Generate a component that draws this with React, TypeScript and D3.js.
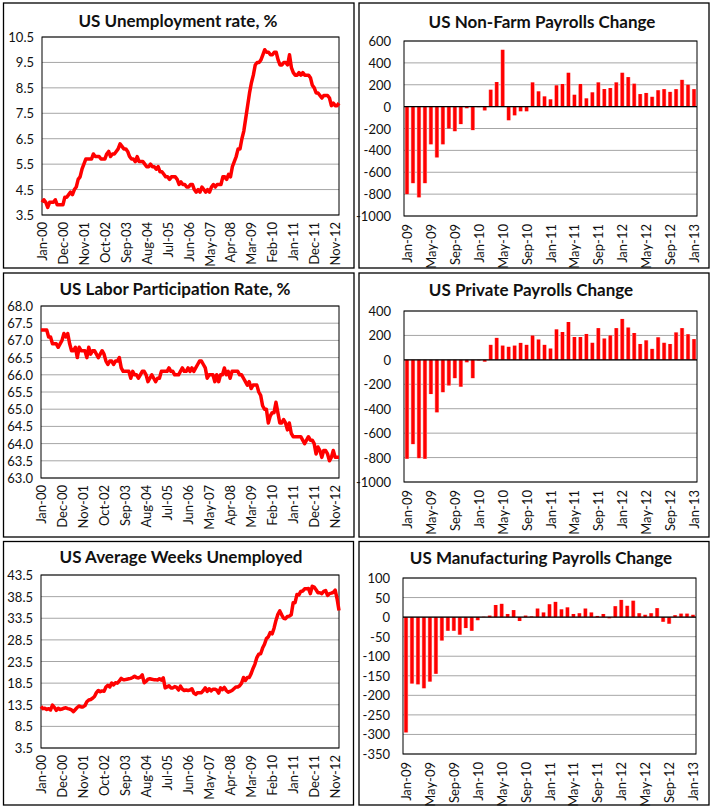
import * as d3 from "d3";

// months on the category axes
const monthFmt = d3.timeFormat("%b-%y");
const lineMonths = d3.timeMonth.range(new Date(2000, 0, 1), new Date(2013, 1, 1)).map(monthFmt);
const barMonths = d3.timeMonth.range(new Date(2009, 0, 1), new Date(2013, 1, 1)).map(monthFmt);

const lineTickLabels = [
  "Jan-00", "Dec-00", "Nov-01", "Oct-02", "Sep-03", "Aug-04", "Jul-05", "Jun-06",
  "May-07", "Apr-08", "Mar-09", "Feb-10", "Jan-11", "Dec-11", "Nov-12",
];
const barTickLabels = [
  "Jan-09", "May-09", "Sep-09", "Jan-10", "May-10", "Sep-10", "Jan-11",
  "May-11", "Sep-11", "Jan-12", "May-12", "Sep-12", "Jan-13",
];

// y tick labels
const unemploymentTicks = [3.5, 4.5, 5.5, 6.5, 7.5, 8.5, 9.5, 10.5];
const participationTicks = [63, 63.5, 64, 64.5, 65, 65.5, 66, 66.5, 67, 67.5, 68];
const weeksTicks = [3.5, 8.5, 13.5, 18.5, 23.5, 28.5, 33.5, 38.5, 43.5];
const nfpTicks = [-1000, -800, -600, -400, -200, 0, 200, 400, 600];
const privateTicks = [-1000, -800, -600, -400, -200, 0, 200, 400];
const manufTicks = [-350, -300, -250, -200, -150, -100, -50, 0, 50, 100];

// monthly series, Jan-00 .. Jan-13
const unemploymentRate = [
  4.0, 4.1, 4.0, 3.8, 4.0, 4.0, 4.0, 4.1, 3.9, 3.9, 3.9, 3.9,
  4.2, 4.2, 4.3, 4.4, 4.3, 4.5, 4.6, 4.9, 5.0, 5.3, 5.5, 5.7,
  5.7, 5.7, 5.7, 5.9, 5.8, 5.8, 5.8, 5.7, 5.7, 5.7, 5.9, 6.0,
  5.8, 5.9, 5.9, 6.0, 6.1, 6.3, 6.2, 6.1, 6.1, 6.0, 5.8, 5.7,
  5.7, 5.6, 5.8, 5.6, 5.6, 5.6, 5.5, 5.4, 5.4, 5.5, 5.4, 5.4,
  5.3, 5.4, 5.2, 5.2, 5.1, 5.0, 5.0, 4.9, 5.0, 5.0, 5.0, 4.9,
  4.7, 4.8, 4.7, 4.7, 4.6, 4.6, 4.7, 4.7, 4.5, 4.4, 4.5, 4.4,
  4.6, 4.5, 4.4, 4.5, 4.4, 4.6, 4.7, 4.6, 4.7, 4.7, 4.7, 5.0,
  5.0, 4.9, 5.1, 5.0, 5.4, 5.6, 5.8, 6.1, 6.1, 6.5, 6.8, 7.3,
  7.8, 8.3, 8.7, 9.0, 9.4, 9.5, 9.5, 9.6, 9.8, 10.0, 9.9, 9.9,
  9.8, 9.8, 9.9, 9.9, 9.6, 9.4, 9.4, 9.5, 9.5, 9.4, 9.8, 9.3,
  9.1, 9.0, 9.0, 9.1, 9.0, 9.1, 9.0, 9.0, 9.0, 8.9, 8.6, 8.5,
  8.3, 8.3, 8.2, 8.1, 8.2, 8.2, 8.2, 8.1, 7.8, 7.9, 7.8, 7.8,
  7.9,
];

const participationRate = [
  67.3, 67.3, 67.3, 67.3, 67.1, 67.1, 66.9, 66.9, 66.9, 66.8, 66.9, 67.0,
  67.2, 67.1, 67.2, 66.9, 66.7, 66.7, 66.8, 66.5, 66.8, 66.7, 66.7, 66.7,
  66.5, 66.8, 66.6, 66.7, 66.7, 66.6, 66.5, 66.6, 66.7, 66.6, 66.4, 66.3,
  66.4, 66.4, 66.3, 66.4, 66.4, 66.5, 66.2, 66.1, 66.1, 66.1, 66.1, 65.9,
  66.1, 66.0, 66.0, 65.9, 66.0, 66.1, 66.1, 66.0, 65.8, 65.9, 66.0, 65.9,
  65.8, 65.9, 65.9, 66.1, 66.1, 66.1, 66.1, 66.2, 66.1, 66.1, 66.0, 66.0,
  66.0, 66.1, 66.2, 66.1, 66.1, 66.2, 66.1, 66.2, 66.1, 66.2, 66.3, 66.4,
  66.4, 66.3, 66.2, 65.9, 66.0, 66.0, 66.0, 65.8, 66.0, 65.8, 66.0, 66.0,
  66.2, 66.0, 66.1, 65.9, 66.1, 66.1, 66.1, 66.1, 66.0, 66.0, 65.9, 65.8,
  65.7, 65.8, 65.6, 65.7, 65.7, 65.7, 65.5, 65.4, 65.1, 65.0, 65.0, 64.6,
  64.8, 64.9, 64.9, 65.2, 64.9, 64.6, 64.6, 64.7, 64.6, 64.4, 64.6, 64.3,
  64.2, 64.2, 64.2, 64.2, 64.2, 64.1, 64.0, 64.1, 64.2, 64.1, 64.1, 64.0,
  63.7, 63.9, 63.8, 63.6, 63.8, 63.8, 63.7, 63.5, 63.6, 63.8, 63.6, 63.6,
  63.6,
];

const avgWeeksUnemployed = [
  13.1, 12.6, 12.7, 12.4, 12.6, 12.3, 13.4, 12.9, 12.2, 12.7, 12.4, 12.5,
  12.7, 12.8, 12.6, 12.5, 12.3, 11.9, 12.4, 12.9, 13.2, 13.0, 13.0, 13.3,
  14.2, 14.6, 14.7, 15.0, 15.4, 16.3, 16.8, 16.5, 16.7, 16.6, 17.6, 18.0,
  17.6, 18.5, 18.1, 18.6, 18.5, 19.0, 19.6, 19.3, 19.3, 19.4, 19.5, 19.6,
  19.8, 20.1, 19.8, 19.7, 19.9, 20.4, 18.6, 18.9, 19.4, 19.5, 19.4, 19.3,
  19.3, 19.2, 19.5, 19.2, 19.7, 17.4, 17.6, 17.9, 17.4, 17.4, 17.7, 17.5,
  16.9, 17.8, 17.1, 16.8, 16.9, 16.8, 16.9, 17.2, 16.2, 15.9, 16.3, 16.3,
  16.3, 16.8, 17.4, 16.6, 17.2, 16.7, 17.1, 17.1, 16.9, 16.2, 17.4, 17.0,
  17.5, 16.8, 16.4, 16.6, 16.8, 17.2, 17.6, 17.6, 17.9, 18.5, 19.8, 19.1,
  19.8, 19.8, 20.7, 21.9, 22.9, 24.4, 25.2, 25.3, 26.6, 27.5, 28.8, 29.2,
  30.2, 29.9, 31.2, 33.0, 34.4, 35.2, 34.3, 33.5, 33.4, 33.9, 34.0, 34.3,
  37.1, 37.1, 39.0, 38.9, 39.7, 39.8, 40.3, 40.3, 40.4, 39.2, 40.9, 40.7,
  40.1, 39.4, 39.4, 39.2, 39.7, 39.9, 38.8, 39.2, 39.3, 39.5, 40.0, 38.0,
  35.3,
];

// monthly changes, thousands, Jan-09 .. Jan-13
const nonFarmChange = [
  -800, -700, -830, -700, -345, -465, -345, -200, -225, -160, -15, -215,
  -5, -35, 155, 225, 520, -125, -80, -43, -43, 222, 140, 94,
  67, 195, 207, 310, 109, 207, 76, 131, 222, 161, 170, 222,
  310, 270, 210, 115, 125, 90, 150, 160, 135, 160, 245, 200,
  160,
];

const privateChange = [
  -810, -690, -805, -810, -280, -430, -265, -210, -150, -220, -20, -150,
  -5, -15, 123, 180, 117, 107, 117, 139, 123, 199, 167, 123,
  93, 250, 228, 310, 187, 187, 212, 140, 260, 175, 200, 260,
  335, 265, 220, 130, 160, 90, 185, 140, 130, 225, 260, 210,
  170,
];

const manufacturingChange = [
  -295, -170, -172, -182, -165, -145, -60, -35, -35, -45, -28, -35,
  -8, 1, 4, 31, 34, 8, 18, -10, 4, 2, 22, 12,
  33, 39, 20, 25, 8, 10, 22, 12, 3, 8, -3, 28,
  44, 29, 42, 10, 6, 10, 23, -12, -17, 5, 9, 9,
  6,
];

const FONT = "Lato, 'DejaVu Sans', sans-serif";
const TXT = "#111";
const TICK_SIZE = 13;

type Box = { x: number; y: number; w: number; h: number };
type Plot = { l: number; t: number; r: number; b: number };

type PanelProps = {
  box: Box;
  plot: Plot;
  title: string;
  titleX: number;
  titleY: number;
  ticks: number[];
  digits: number;
  labelGap: number;
};

const Frame = ({ box, title, titleX, titleY }: PanelProps) => (
  <>
    <rect x={box.x} y={box.y} width={box.w} height={box.h} fill="#fff" stroke="#000" strokeWidth={1.3} />
    <text x={titleX} y={titleY} textAnchor="middle" fontFamily={FONT} fontWeight="bold" fontSize={17} fill={TXT}>
      {title}
    </text>
  </>
);

const YAxis = ({ plot, ticks, digits, labelGap, y }: PanelProps & { y: d3.ScaleLinear<number, number> }) => (
  <>
    {ticks.map((t) => (
      <line key={"g" + t} x1={plot.l} x2={plot.r} y1={y(t)} y2={y(t)} stroke="#a6a6a6" strokeWidth={1} />
    ))}
    <rect x={plot.l} y={plot.t} width={plot.r - plot.l} height={plot.b - plot.t} fill="none" stroke="#000" strokeWidth={1} />
    {ticks.map((t) => (
      <text
        key={"t" + t}
        x={plot.l - labelGap}
        y={y(t)}
        textAnchor="end"
        dominantBaseline="central"
        fontFamily={FONT}
        fontSize={TICK_SIZE}
        fill={TXT}
      >
        {t.toFixed(digits)}
      </text>
    ))}
  </>
);

const LinePanel = (props: PanelProps & { values: number[] }) => {
  const { plot, ticks, values } = props;
  const x = d3.scaleLinear().domain([0, values.length - 1]).range([plot.l, plot.r]);
  const y = d3.scaleLinear().domain([ticks[0], ticks[ticks.length - 1]]).range([plot.b, plot.t]);
  const line = d3
    .line<number>()
    .x((_, i) => x(i))
    .y((d) => y(d));
  return (
    <g>
      <Frame {...props} />
      <YAxis {...props} y={y} />
      <path d={line(values) ?? ""} fill="none" stroke="#ff0000" strokeWidth={3.5} strokeLinejoin="round" />
      {lineTickLabels.map((lab) => (
        <text
          key={lab}
          transform={`translate(${x(lineMonths.indexOf(lab))},${plot.b + 7}) rotate(-90)`}
          textAnchor="end"
          dominantBaseline="central"
          fontFamily={FONT}
          fontSize={TICK_SIZE}
          fill={TXT}
        >
          {lab}
        </text>
      ))}
    </g>
  );
};

const BarPanel = (props: PanelProps & { values: number[] }) => {
  const { plot, ticks, values } = props;
  const x = d3.scaleBand<string>().domain(barMonths).range([plot.l, plot.r]).paddingInner(0.28).paddingOuter(0.14);
  const y = d3.scaleLinear().domain([ticks[0], ticks[ticks.length - 1]]).range([plot.b, plot.t]);
  const bw = x.bandwidth();
  return (
    <g>
      <Frame {...props} />
      <YAxis {...props} y={y} />
      {values.map((v, i) => (
        <rect
          key={i}
          x={x(barMonths[i]) ?? 0}
          y={Math.min(y(v), y(0))}
          width={bw}
          height={Math.abs(y(v) - y(0))}
          fill="url(#barGrad)"
        />
      ))}
      <line x1={plot.l} x2={plot.r} y1={y(0)} y2={y(0)} stroke="#000" strokeWidth={1.2} />
      {barTickLabels.map((lab) => (
        <text
          key={lab}
          transform={`translate(${(x(lab) ?? 0) + bw / 2},${plot.b + 8}) rotate(-90)`}
          textAnchor="end"
          dominantBaseline="central"
          fontFamily={FONT}
          fontSize={TICK_SIZE}
          fill={TXT}
        >
          {lab}
        </text>
      ))}
    </g>
  );
};

export default function App() {
  return (
    <svg width={711} height={808} style={{ position: "absolute", left: 0, top: 0, background: "#fff" }}>
      <defs>
        <linearGradient id="barGrad" x1="0" x2="1" y1="0" y2="0">
          <stop offset="0" stopColor="#ff9a9a" />
          <stop offset="0.25" stopColor="#ff0000" />
          <stop offset="0.75" stopColor="#ff0000" />
          <stop offset="1" stopColor="#ff9a9a" />
        </linearGradient>
      </defs>
      <rect x={0} y={0} width={711} height={808} fill="#fff" />

      <LinePanel
        box={{ x: 3.5, y: 3, w: 350.5, h: 265 }}
        plot={{ l: 42, t: 37, r: 339, b: 215 }}
        title="US Unemployment rate, %"
        titleX={178}
        titleY={27}
        ticks={unemploymentTicks}
        digits={1}
        labelGap={8}
        values={unemploymentRate}
      />
      <LinePanel
        box={{ x: 3.5, y: 273, w: 350.5, h: 264 }}
        plot={{ l: 41, t: 306, r: 339, b: 478 }}
        title="US Labor Participation Rate, %"
        titleX={175}
        titleY={295}
        ticks={participationTicks}
        digits={1}
        labelGap={8}
        values={participationRate}
      />
      <LinePanel
        box={{ x: 3.5, y: 541.5, w: 350, h: 263.5 }}
        plot={{ l: 41, t: 575, r: 339, b: 748 }}
        title="US Average Weeks Unemployed"
        titleX={181}
        titleY={563}
        ticks={weeksTicks}
        digits={1}
        labelGap={8}
        values={avgWeeksUnemployed}
      />

      <BarPanel
        box={{ x: 359, y: 3, w: 350, h: 265 }}
        plot={{ l: 404, t: 41, r: 697, b: 216 }}
        title="US Non-Farm Payrolls Change"
        titleX={542}
        titleY={28}
        ticks={nfpTicks}
        digits={0}
        labelGap={13}
        values={nonFarmChange}
      />
      <BarPanel
        box={{ x: 359, y: 273, w: 350, h: 264 }}
        plot={{ l: 404, t: 311, r: 697, b: 482 }}
        title="US Private Payrolls Change"
        titleX={531}
        titleY={296}
        ticks={privateTicks}
        digits={0}
        labelGap={13}
        values={privateChange}
      />
      <BarPanel
        box={{ x: 359, y: 541.5, w: 350, h: 263.5 }}
        plot={{ l: 403, t: 578, r: 696, b: 754 }}
        title="US Manufacturing Payrolls Change"
        titleX={541}
        titleY={564}
        ticks={manufTicks}
        digits={0}
        labelGap={13}
        values={manufacturingChange}
      />
    </svg>
  );
}
